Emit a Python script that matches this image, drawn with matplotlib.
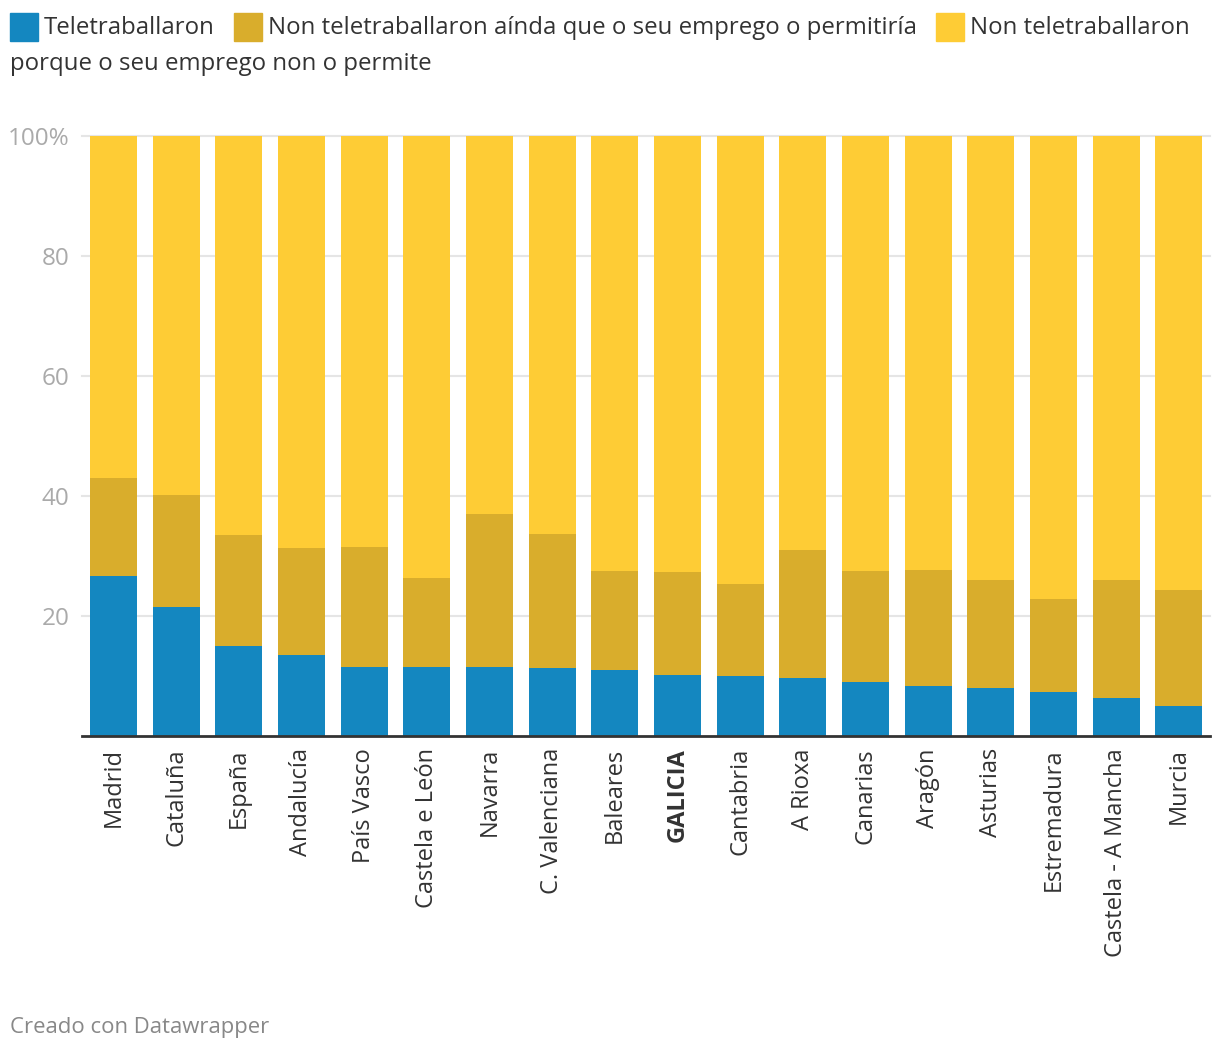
import numpy as np
import matplotlib.pyplot as plt
from matplotlib.patches import Rectangle

plt.rcParams['font.family'] = ['Open Sans', 'DejaVu Sans']

regions = ["Madrid", "Cataluña", "España", "Andalucía", "País Vasco", "Castela e León",
           "Navarra", "C. Valenciana", "Baleares", "GALICIA", "Cantabria", "A Rioxa",
           "Canarias", "Aragón", "Asturias", "Estremadura", "Castela - A Mancha", "Murcia"]

teletraballaron = [26.6, 21.5, 15.0, 13.4, 11.5, 11.5, 11.5, 11.3, 11.0, 10.1,
                   9.9, 9.6, 9.0, 8.3, 8.0, 7.3, 6.3, 5.0]
podia_pero_non = [16.3, 18.7, 18.5, 17.9, 20.0, 14.8, 25.5, 22.3, 16.5, 17.2,
                  15.4, 21.4, 18.5, 19.3, 18.0, 15.5, 19.7, 19.3]
non_permite = [100 - a - b for a, b in zip(teletraballaron, podia_pero_non)]

legend_labels = ["Teletraballaron",
                 "Non teletraballaron aínda que o seu emprego o permitiría",
                 "Non teletraballaron"]
legend_line2 = "porque o seu emprego non o permite"

c_blue = "#1487c0"
c_olive = "#d9ad2c"
c_yellow = "#fecc35"

W, H = 1220, 1052
fig = plt.figure(figsize=(W / 100, H / 100), dpi=100)
ax = fig.add_axes([82 / W, 1 - 735.7 / H, (1210 - 82) / W, 600 / H])

x = np.arange(len(regions))
bw = 0.75
b1 = np.array(teletraballaron)
b2 = np.array(podia_pero_non)
b3 = np.array(non_permite)
ax.bar(x, b1, bw, color=c_blue, zorder=3)
ax.bar(x, b2, bw, bottom=b1, color=c_olive, zorder=3)
ax.bar(x, b3, bw, bottom=b1 + b2, color=c_yellow, zorder=3)

ax.set_xlim(-0.5, len(regions) - 0.5)
ax.set_ylim(0, 100)
for s in ["top", "right", "left"]:
    ax.spines[s].set_visible(False)
ax.spines["bottom"].set_color("#333333")
ax.spines["bottom"].set_linewidth(2)
ax.spines["bottom"].set_zorder(4)

yt = [20, 40, 60, 80, 100]
ax.set_yticks(yt)
ax.set_yticklabels(["20", "40", "60", "80", "100%"])
ax.yaxis.grid(True, color="#e5e5e5", linewidth=1.5, zorder=0)
for gl in ax.get_ygridlines():
    gl.set_clip_on(False)
ax.tick_params(axis="y", length=0, pad=9, labelsize=17.5, labelcolor="#aaaaaa")

ax.set_xticks(x)
ax.set_xticklabels(regions, rotation=90, va="top", ha="center")
ax.tick_params(axis="x", length=0, pad=9, labelsize=17, labelcolor="#333333")
for lab in ax.get_xticklabels():
    if lab.get_text() == "GALICIA":
        lab.set_fontweight("bold")

# legend drawn by hand, like the wrapped Datawrapper key
sq = 28
keys = [(10, c_blue, 44), (234, c_olive, 268), (936, c_yellow, 970)]
for (kx, col, tx), lab in zip(keys, legend_labels):
    fig.patches.append(Rectangle((kx / W, 1 - 41 / H), sq / W, sq / H,
                                 transform=fig.transFigure, color=col))
    fig.text(tx / W, 1 - 28 / H, lab, fontsize=17.3, color="#333333", va="center")
fig.text(10 / W, 1 - 64 / H, legend_line2, fontsize=17.3, color="#333333", va="center")

fig.text(10 / W, 1 - 1028 / H, "Creado con Datawrapper", fontsize=15.9,
         color="#888888", va="center")

fig.savefig("out.png", dpi=100, facecolor="white")
